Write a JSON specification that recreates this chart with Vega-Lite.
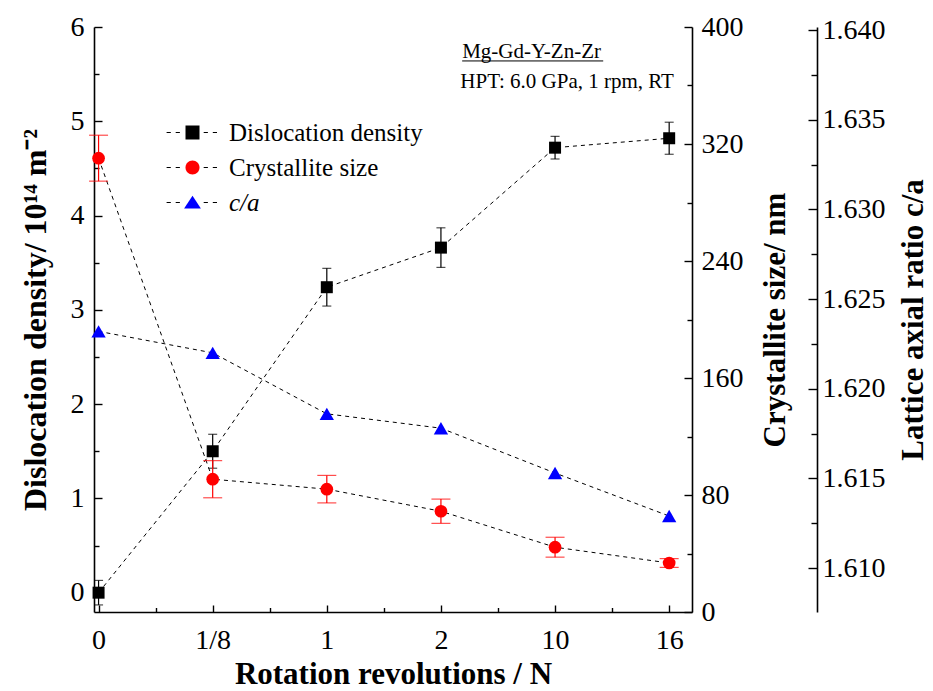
{
  "$schema": "https://vega.github.io/schema/vega-lite/v6.json",
  "width": 598,
  "height": 585,
  "autosize": {"type": "none"},
  "padding": {"left": 94, "top": 27, "right": 241, "bottom": 79},
  "background": "white",
  "config": {
    "view": {"stroke": null},
    "font": "Liberation Serif",
    "axis": {
      "grid": false,
      "domainColor": "black",
      "domainWidth": 1.6,
      "tickColor": "black",
      "tickWidth": 1.4,
      "labelColor": "black",
      "labelFont": "Liberation Serif",
      "labelFontSize": 28,
      "labelFlush": false,
      "labelOverlap": false,
      "titleFont": "Liberation Serif",
      "titleFontSize": 31,
      "titleFontWeight": "bold",
      "titleColor": "black"
    }
  },
  "data": {
    "values": [
      {"N": "0", "step": 0, "dislocation": 0.0, "dislocation_err": 0.13, "size": 310.3, "size_err": 15.7, "ca": 1.6232},
      {"N": "1/8", "step": 1, "dislocation": 1.5, "dislocation_err": 0.18, "size": 90.8, "size_err": 12.7, "ca": 1.622},
      {"N": "1", "step": 2, "dislocation": 3.24, "dislocation_err": 0.2, "size": 84.0, "size_err": 9.4, "ca": 1.6186},
      {"N": "2", "step": 3, "dislocation": 3.66, "dislocation_err": 0.21, "size": 68.9, "size_err": 8.3, "ca": 1.6178},
      {"N": "10", "step": 4, "dislocation": 4.72, "dislocation_err": 0.12, "size": 44.3, "size_err": 6.8, "ca": 1.6153},
      {"N": "16", "step": 5, "dislocation": 4.82, "dislocation_err": 0.17, "size": 33.5, "size_err": 3.0, "ca": 1.6129}
    ]
  },
  "layer": [
    {
      "layer": [
        {
          "mark": {"type": "line", "color": "black", "strokeWidth": 1, "strokeDash": [4, 4]},
          "encoding": {
            "x": {
              "field": "step", "type": "quantitative",
              "scale": {"domain": [-0.04, 5.2], "nice": false, "zero": false},
              "axis": {
                "orient": "bottom",
                "values": [0, 1, 2, 3, 4, 5],
                "labelExpr": "['0', '1/8', '1', '2', '10', '16'][datum.value]",
                "tickSize": -7,
                "labelPadding": 21,
                "title": "Rotation revolutions / N",
                "titlePadding": 5
              }
            },
            "y": {
              "field": "dislocation", "type": "quantitative",
              "scale": {"domain": [-0.205, 6], "nice": false, "zero": false},
              "axis": {
                "orient": "left",
                "values": [0, 1, 2, 3, 4, 5, 6],
                "tickSize": -8,
                "labelPadding": 18,
                "title": "Dislocation density/ 10¹⁴ m⁻²",
                "titleFontSize": 32,
                "titlePadding": 18
              }
            }
          }
        },
        {
          "mark": {"type": "errorbar", "color": "black", "ticks": {"size": 9, "thickness": 1.2}, "rule": {"strokeWidth": 1.2}},
          "encoding": {
            "x": {"field": "step", "type": "quantitative", "scale": {"domain": [-0.04, 5.2], "nice": false, "zero": false}, "axis": null},
            "y": {"field": "dislocation", "type": "quantitative", "scale": {"domain": [-0.205, 6], "nice": false, "zero": false}, "axis": null},
            "yError": {"field": "dislocation_err"}
          }
        },
        {
          "mark": {"type": "point", "shape": "square", "filled": true, "size": 144, "color": "black", "opacity": 1},
          "encoding": {
            "x": {
              "field": "step", "type": "quantitative",
              "scale": {"domain": [-0.04, 5.2], "nice": false, "zero": false},
              "axis": {"orient": "bottom", "values": [0.5, 1.5, 2.5, 3.5, 4.5], "labels": false, "domain": false, "tickSize": -4.5, "title": null}
            },
            "y": {
              "field": "dislocation", "type": "quantitative",
              "scale": {"domain": [-0.205, 6], "nice": false, "zero": false},
              "axis": {"orient": "left", "values": [0.5, 1.5, 2.5, 3.5, 4.5, 5.5], "labels": false, "domain": false, "tickSize": -5, "title": null}
            }
          }
        },
        {
          "data": {"values": [{}]},
          "mark": {"type": "text", "text": "Mg-Gd-Y-Zn-Zr", "align": "left", "baseline": "alphabetic", "font": "Liberation Serif", "fontSize": 21, "color": "black"},
          "encoding": {
            "x": {"datum": 3.186, "type": "quantitative", "scale": {"domain": [-0.04, 5.2], "nice": false, "zero": false}, "axis": null},
            "y": {"datum": 5.671, "type": "quantitative", "scale": {"domain": [-0.205, 6], "nice": false, "zero": false}, "axis": null}
          }
        },
        {
          "data": {"values": [{}]},
          "mark": {"type": "rule", "color": "black", "strokeWidth": 1},
          "encoding": {
            "x": {"datum": 3.186, "type": "quantitative", "scale": {"domain": [-0.04, 5.2], "nice": false, "zero": false}, "axis": null},
            "x2": {"datum": 4.422},
            "y": {"datum": 5.64, "type": "quantitative", "scale": {"domain": [-0.205, 6], "nice": false, "zero": false}, "axis": null}
          }
        },
        {
          "data": {"values": [{}]},
          "mark": {"type": "text", "text": "HPT: 6.0 GPa, 1 rpm, RT", "align": "left", "baseline": "alphabetic", "font": "Liberation Serif", "fontSize": 21, "color": "black"},
          "encoding": {
            "x": {"datum": 3.17, "type": "quantitative", "scale": {"domain": [-0.04, 5.2], "nice": false, "zero": false}, "axis": null},
            "y": {"datum": 5.353, "type": "quantitative", "scale": {"domain": [-0.205, 6], "nice": false, "zero": false}, "axis": null}
          }
        }
      ],
      "resolve": {"axis": {"x": "independent", "y": "independent"}}
    },
    {
      "layer": [
        {
          "mark": {"type": "line", "color": "black", "strokeWidth": 1, "strokeDash": [4, 4]},
          "encoding": {
            "x": {"field": "step", "type": "quantitative", "scale": {"domain": [-0.04, 5.2], "nice": false, "zero": false}, "axis": null},
            "y": {
              "field": "size", "type": "quantitative",
              "scale": {"domain": [0, 400], "nice": false, "zero": false},
              "axis": {
                "orient": "right",
                "values": [0, 80, 160, 240, 320, 400],
                "tickSize": -8,
                "labelPadding": 17,
                "title": "Crystallite size/ nm",
                "titleAngle": 270,
                "titleBaseline": "top",
                "titlePadding": 17
              }
            }
          }
        },
        {
          "mark": {"type": "errorbar", "color": "red", "ticks": {"size": 19, "thickness": 1.2}, "rule": {"strokeWidth": 1.2}},
          "encoding": {
            "x": {"field": "step", "type": "quantitative", "scale": {"domain": [-0.04, 5.2], "nice": false, "zero": false}, "axis": null},
            "y": {"field": "size", "type": "quantitative", "scale": {"domain": [0, 400], "nice": false, "zero": false}, "axis": null},
            "yError": {"field": "size_err"}
          }
        },
        {
          "mark": {"type": "point", "shape": "circle", "filled": true, "size": 161, "color": "red", "opacity": 1},
          "encoding": {
            "x": {"field": "step", "type": "quantitative", "scale": {"domain": [-0.04, 5.2], "nice": false, "zero": false}, "axis": null},
            "y": {
              "field": "size", "type": "quantitative",
              "scale": {"domain": [0, 400], "nice": false, "zero": false},
              "axis": {"orient": "right", "values": [40, 120, 200, 280, 360], "labels": false, "domain": false, "tickSize": -5, "title": null}
            }
          }
        }
      ],
      "resolve": {"axis": {"y": "independent"}}
    },
    {
      "layer": [
        {
          "mark": {"type": "line", "color": "black", "strokeWidth": 1, "strokeDash": [4, 4]},
          "encoding": {
            "x": {
              "field": "step", "type": "quantitative",
              "scale": {"domain": [-0.04, 5.2], "nice": false, "zero": false},
              "axis": {
                "orient": "top",
                "values": [0, 0.5, 1, 1.5, 2, 2.5, 3, 3.5, 4, 4.5, 5],
                "labels": false,
                "tickSize": -5,
                "title": null
              }
            },
            "y": {
              "field": "ca", "type": "quantitative",
              "scale": {"domain": [1.60755, 1.64017], "nice": false, "zero": false},
              "axis": {
                "orient": "right",
                "offset": 125,
                "values": [1.61, 1.615, 1.62, 1.625, 1.63, 1.635, 1.64],
                "format": ".3f",
                "tickSize": -9,
                "labelPadding": 14,
                "title": "Lattice axial ratio c/a",
                "titleAngle": 270,
                "titleBaseline": "top",
                "titlePadding": 13
              }
            }
          }
        },
        {
          "mark": {"type": "point", "shape": "triangle-up", "filled": true, "size": 205, "color": "blue", "opacity": 1},
          "encoding": {
            "x": {"field": "step", "type": "quantitative", "scale": {"domain": [-0.04, 5.2], "nice": false, "zero": false}, "axis": null},
            "y": {
              "field": "ca", "type": "quantitative",
              "scale": {"domain": [1.60755, 1.64017], "nice": false, "zero": false},
              "axis": {"orient": "right", "offset": 125, "values": [1.6075, 1.6125, 1.6175, 1.6225, 1.6275, 1.6325, 1.6375], "labels": false, "domain": false, "tickSize": -6, "title": null}
            }
          }
        }
      ],
      "resolve": {"axis": {"y": "independent"}}
    },
    {
      "transform": [
        {"fold": ["dislocation", "size", "ca"], "as": ["series", "value"]},
        {"filter": "false"}
      ],
      "mark": {"type": "point", "filled": true, "color": "black", "opacity": 1},
      "encoding": {
        "shape": {
          "field": "series", "type": "nominal",
          "scale": {
            "domain": ["dislocation", "size", "ca"],
            "range": ["M-1,-1H1V1H-1Z", "M1,0A1,1,0,1,1,-1,0A1,1,0,1,1,1,0Z", "M0,-0.95L1.2,0.85H-1.2Z"]
          },
          "legend": {
            "orient": "none", "legendX": 86, "legendY": 93, "title": null, "padding": 0,
            "symbolSize": 196, "symbolStrokeWidth": 0, "symbolOpacity": 1,
            "labelFont": "Liberation Serif", "labelFontSize": 25, "labelColor": "black", "labelLimit": 400,
            "labelOffset": 24, "rowPadding": 9,
            "labelExpr": "datum.value === 'dislocation' ? 'Dislocation density' : datum.value === 'size' ? 'Crystallite size' : 'c/a'",
            "encoding": {
              "symbols": {
                "fill": {"condition": [{"test": "datum.value === 'size'", "value": "red"}, {"test": "datum.value === 'ca'", "value": "blue"}], "value": "black"}
              },
              "labels": {
                "fontStyle": {"condition": {"test": "datum.value === 'ca'", "value": "italic"}, "value": "normal"}
              }
            }
          }
        }
      }
    },
    {
      "transform": [
        {"fold": ["dislocation", "size", "ca"], "as": ["series", "value"]},
        {"filter": "false"}
      ],
      "mark": {"type": "point", "filled": false, "color": "black", "strokeWidth": 1, "opacity": 1},
      "encoding": {
        "shape": {
          "field": "series", "type": "nominal",
          "scale": {
            "domain": ["dislocation", "size", "ca"],
            "range": [
              "M-3.7,0H-3.1M-2.4,0H-1.8M1.6,0H2.2M2.9,0H3.5",
              "M-3.7,0H-3.1M-2.4,0H-1.8M1.6,0H2.2M2.9,0H3.5",
              "M-3.7,0H-3.1M-2.4,0H-1.8M1.6,0H2.2M2.9,0H3.5"
            ]
          },
          "legend": {
            "orient": "none", "legendX": 86, "legendY": 93, "title": null, "padding": 0,
            "symbolSize": 196, "symbolStrokeWidth": 1, "symbolOpacity": 1,
            "symbolFillColor": "transparent", "symbolStrokeColor": "black",
            "labelFont": "Liberation Serif", "labelFontSize": 25, "labelColor": "transparent", "labelLimit": 400,
            "labelOffset": 24, "rowPadding": 9,
            "labelExpr": "datum.value === 'dislocation' ? 'Dislocation density' : datum.value === 'size' ? 'Crystallite size' : 'c/a'"
          }
        }
      }
    }
  ],
  "resolve": {
    "scale": {"y": "independent", "shape": "independent"},
    "axis": {"x": "independent"}
  }
}
